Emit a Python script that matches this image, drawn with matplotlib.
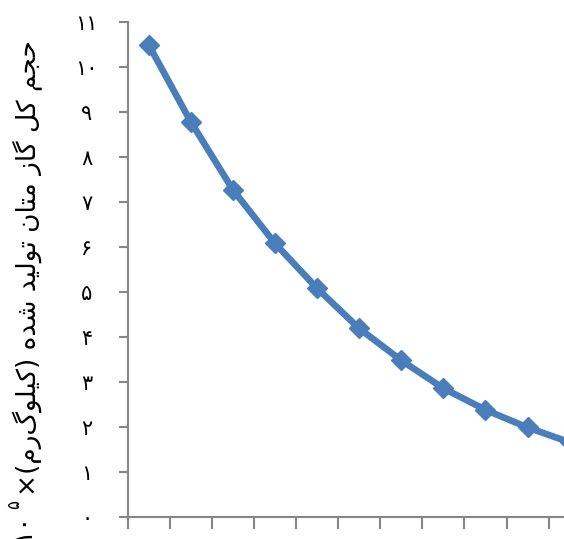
import matplotlib.pyplot as plt
from matplotlib.ticker import FixedLocator, FuncFormatter

# values
periods = list(range(1, 12))
methane = [10.49, 8.78, 7.27, 6.08, 5.08, 4.19, 3.48, 2.86, 2.38, 1.99, 1.66]
y_ticks = list(range(0, 12))
label_fa = 'حجم کل گاز متان تولید شده (کیلوگرم)'
label_mult = '×'
label_base = '۱۰'
label_exp = '۵'

LINE_COLOR = '#4A7EBB'
AXIS_COLOR = '#868686'

# matplotlib has no arabic shaping, so do it by hand:
# (isolated, final, initial, medial)
FORMS = {
    'ا': ('\uFE8D', '\uFE8E', None, None),
    'د': ('\uFEA9', '\uFEAA', None, None),
    'ز': ('\uFEAF', '\uFEB0', None, None),
    'و': ('\uFEED', '\uFEEE', None, None),
    'ت': ('\uFE95', '\uFE96', '\uFE97', '\uFE98'),
    'ج': ('\uFE9D', '\uFE9E', '\uFE9F', '\uFEA0'),
    'ح': ('\uFEA1', '\uFEA2', '\uFEA3', '\uFEA4'),
    'ش': ('\uFEB5', '\uFEB6', '\uFEB7', '\uFEB8'),
    'ل': ('\uFEDD', '\uFEDE', '\uFEDF', '\uFEE0'),
    'م': ('\uFEE1', '\uFEE2', '\uFEE3', '\uFEE4'),
    'ن': ('\uFEE5', '\uFEE6', '\uFEE7', '\uFEE8'),
    'ه': ('\uFEE9', '\uFEEA', '\uFEEB', '\uFEEC'),
    'ک': ('\uFB8E', '\uFB8F', '\uFB90', '\uFB91'),
    'گ': ('\uFB92', '\uFB93', '\uFB94', '\uFB95'),
    'ی': ('\uFBFC', '\uFBFD', '\uFBFE', '\uFBFF'),
}


def shape_rtl(text):
    out = []
    for i, ch in enumerate(text):
        if ch not in FORMS:
            out.append(ch)
            continue
        forms = FORMS[ch]
        prev = text[i - 1] if i > 0 else ''
        nxt = text[i + 1] if i + 1 < len(text) else ''
        join_prev = prev in FORMS and FORMS[prev][2] is not None
        join_next = forms[2] is not None and nxt in FORMS
        if join_prev and join_next:
            out.append(forms[3])
        elif join_prev:
            out.append(forms[1])
        elif join_next:
            out.append(forms[2])
        else:
            out.append(forms[0])
    vis = ''.join(out)[::-1]
    return vis.translate(str.maketrans('()', ')('))


def fa_digits(n):
    return ''.join('۰۱۲۳۴۵۶۷۸۹'[int(d)] for d in str(n))


W, H = 564, 539
fig = plt.figure(figsize=(W / 100, H / 100), dpi=100)
ax = fig.add_axes([127.7 / W, 22 / H, 463 / W, 495 / H])

x = [p - 0.5 for p in periods]
ax.plot(x, methane, color=LINE_COLOR, lw=4.8, marker='D', ms=10.5,
        mfc=LINE_COLOR, mec=LINE_COLOR, clip_on=False)

ax.set_xlim(0, len(periods))
ax.set_ylim(0, 11)
ax.xaxis.set_major_locator(FixedLocator(range(0, len(periods) + 1)))
ax.yaxis.set_major_locator(FixedLocator(y_ticks))
ax.yaxis.set_major_formatter(FuncFormatter(lambda v, pos: fa_digits(int(round(v)))))
ax.set_xticklabels([])

for s in ['top', 'right']:
    ax.spines[s].set_visible(False)
for s in ['left', 'bottom']:
    ax.spines[s].set_color(AXIS_COLOR)
    ax.spines[s].set_linewidth(1.5)

ax.tick_params(axis='x', direction='out', length=8.5, width=1.5, color=AXIS_COLOR)
ax.tick_params(axis='y', direction='out', length=6.5, width=1.5, color=AXIS_COLOR,
               labelsize=15, pad=23)
for t in ax.get_yticklabels():
    t.set_horizontalalignment('center')
    t.set_family('DejaVu Sans')

# y label: persian text + multiplier, then 10 with superscript 5
lab = fig.text(28 / W, 1 - 40 / H, label_mult + shape_rtl(label_fa), rotation=90,
               ha='center', va='top', fontsize=19, family='DejaVu Sans')
ax.annotate(label_exp, xy=(0.5, 0), xycoords=lab, xytext=(-10, -6),
            textcoords='offset points', rotation=90, ha='center', va='center',
            fontsize=12, family='DejaVu Sans', annotation_clip=False)
ax.annotate(label_base, xy=(0.5, 0), xycoords=lab, xytext=(-4, -12),
            textcoords='offset points', rotation=90, ha='center', va='top',
            fontsize=19, family='DejaVu Sans', annotation_clip=False)

fig.savefig('out.png', dpi=100)
